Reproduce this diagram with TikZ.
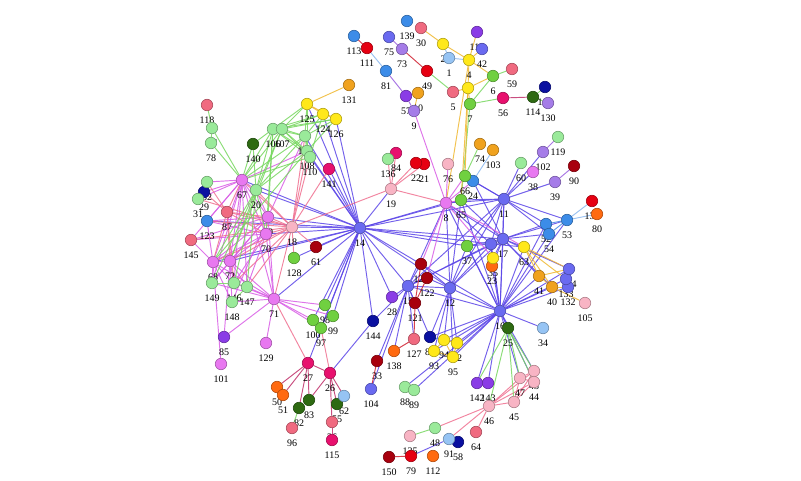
\documentclass[tikz,border=0pt]{standalone}
\usepackage{fontspec}
\setmainfont{Liberation Serif}
\pgfdeclarelayer{edgelayer}
\pgfdeclarelayer{labellayer}
\pgfsetlayers{edgelayer,labellayer,main}
\definecolor{bv}{HTML}{6A6AF0}
\definecolor{viol}{HTML}{E878F0}
\definecolor{purp}{HTML}{8A3CE6}
\definecolor{lav}{HTML}{A57CE8}
\definecolor{lgr}{HTML}{9AEA9A}
\definecolor{grn}{HTML}{70D040}
\definecolor{dgr}{HTML}{2E6A12}
\definecolor{yel}{HTML}{FFE81A}
\definecolor{org}{HTML}{F0A21E}
\definecolor{ored}{HTML}{FF6A10}
\definecolor{red}{HTML}{E60012}
\definecolor{dred}{HTML}{A8000E}
\definecolor{dpink}{HTML}{E8106E}
\definecolor{spink}{HTML}{F06A80}
\definecolor{lpink}{HTML}{F8B4C4}
\definecolor{lblu}{HTML}{96C4F4}
\definecolor{blu}{HTML}{3C8CE8}
\definecolor{navy}{HTML}{0A10A0}
\definecolor{cbv}{HTML}{5B45E8}
\definecolor{cmag}{HTML}{D95CE6}
\definecolor{cpink}{HTML}{F07090}
\definecolor{cgrn}{HTML}{78D860}
\definecolor{corg}{HTML}{F0B830}
\definecolor{cdp}{HTML}{C0306A}
\definecolor{cred}{HTML}{D02030}
\definecolor{clav}{HTML}{9A60E0}
\definecolor{clb}{HTML}{8AB8F0}
\definecolor{cblu}{HTML}{4A8AE6}
\tikzset{
  vtx/.style={circle,inner sep=0pt,minimum size=11.5pt,line width=0.6pt},
  lbl/.style={font=\fontsize{10}{12}\selectfont,inner sep=0pt},
  elink/.style={line width=0.95pt,opacity=0.85}
}
\newcommand\mkv[4]{\node[vtx,fill=#4,draw=#4!70!black] (n#1) at (#2,#3) {};
  \begin{pgfonlayer}{labellayer}\node[lbl] at (#2,#3+15) {#1};\end{pgfonlayer}}
\newcommand\mkedges[2]{\begin{pgfonlayer}{edgelayer}\foreach \a/\b in {#2} {\draw[elink,#1] (n\a) -- (n\b);}\end{pgfonlayer}}
\begin{document}
\begin{tikzpicture}[x=1pt,y=-1pt]
\begin{pgfonlayer}{edgelayer}
\fill[white] (0,0) rectangle (801,481);
\end{pgfonlayer}
\useasboundingbox (0,0) rectangle (801,481);
\mkv{1}{449}{58}{lblu}
\mkv{2}{443}{44}{yel}
\mkv{3}{468}{88}{yel}
\mkv{4}{469}{60}{yel}
\mkv{5}{453}{92}{spink}
\mkv{6}{493}{76}{grn}
\mkv{7}{470}{104}{grn}
\mkv{8}{446}{203}{viol}
\mkv{9}{414}{111}{lav}
\mkv{10}{418}{93}{org}
\mkv{11}{504}{199}{bv}
\mkv{12}{450}{288}{bv}
\mkv{13}{491}{244}{bv}
\mkv{14}{360}{228}{bv}
\mkv{15}{408}{286}{bv}
\mkv{16}{500}{311}{bv}
\mkv{17}{503}{239}{bv}
\mkv{18}{292}{227}{lpink}
\mkv{19}{391}{189}{lpink}
\mkv{20}{256}{190}{lgr}
\mkv{21}{424}{164}{red}
\mkv{22}{416}{163}{red}
\mkv{23}{492}{266}{ored}
\mkv{24}{473}{181}{blu}
\mkv{25}{508}{328}{dgr}
\mkv{26}{330}{373}{dpink}
\mkv{27}{308}{363}{dpink}
\mkv{28}{392}{297}{purp}
\mkv{29}{204}{192}{navy}
\mkv{30}{421}{28}{spink}
\mkv{31}{198}{199}{lgr}
\mkv{32}{207}{182}{lgr}
\mkv{33}{377}{361}{dred}
\mkv{34}{543}{328}{lblu}
\mkv{35}{493}{258}{yel}
\mkv{36}{332}{422}{spink}
\mkv{37}{467}{246}{grn}
\mkv{38}{533}{172}{viol}
\mkv{39}{555}{182}{lav}
\mkv{40}{552}{287}{org}
\mkv{41}{539}{276}{org}
\mkv{42}{482}{49}{bv}
\mkv{43}{534}{371}{lpink}
\mkv{44}{534}{382}{lpink}
\mkv{45}{514}{402}{lpink}
\mkv{46}{489}{406}{lpink}
\mkv{47}{520}{378}{lpink}
\mkv{48}{435}{428}{lgr}
\mkv{49}{427}{71}{red}
\mkv{50}{277}{387}{ored}
\mkv{51}{283}{395}{ored}
\mkv{52}{546}{224}{blu}
\mkv{53}{567}{220}{blu}
\mkv{54}{549}{234}{blu}
\mkv{55}{337}{404}{dgr}
\mkv{56}{503}{98}{dpink}
\mkv{57}{406}{96}{purp}
\mkv{58}{458}{442}{navy}
\mkv{59}{512}{69}{spink}
\mkv{60}{521}{163}{lgr}
\mkv{61}{316}{247}{dred}
\mkv{62}{344}{396}{lblu}
\mkv{63}{524}{247}{yel}
\mkv{64}{476}{432}{spink}
\mkv{65}{461}{200}{grn}
\mkv{66}{465}{176}{grn}
\mkv{67}{242}{180}{viol}
\mkv{68}{213}{262}{viol}
\mkv{69}{268}{217}{viol}
\mkv{70}{266}{234}{viol}
\mkv{71}{274}{299}{viol}
\mkv{72}{230}{261}{viol}
\mkv{73}{402}{49}{lav}
\mkv{74}{480}{144}{org}
\mkv{75}{389}{37}{bv}
\mkv{76}{448}{164}{lpink}
\mkv{77}{212}{128}{lgr}
\mkv{78}{211}{143}{lgr}
\mkv{79}{411}{456}{red}
\mkv{80}{597}{214}{ored}
\mkv{81}{386}{71}{blu}
\mkv{82}{299}{408}{dgr}
\mkv{83}{309}{400}{dgr}
\mkv{84}{396}{153}{dpink}
\mkv{85}{224}{337}{purp}
\mkv{86}{430}{337}{navy}
\mkv{87}{227}{212}{spink}
\mkv{88}{405}{387}{lgr}
\mkv{89}{414}{390}{lgr}
\mkv{90}{574}{166}{dred}
\mkv{91}{449}{439}{lblu}
\mkv{92}{457}{343}{yel}
\mkv{93}{434}{351}{yel}
\mkv{94}{444}{340}{yel}
\mkv{95}{453}{357}{yel}
\mkv{96}{292}{428}{spink}
\mkv{97}{321}{328}{grn}
\mkv{98}{325}{305}{grn}
\mkv{99}{333}{316}{grn}
\mkv{100}{313}{320}{grn}
\mkv{101}{221}{364}{viol}
\mkv{102}{543}{152}{lav}
\mkv{103}{493}{150}{org}
\mkv{104}{371}{389}{bv}
\mkv{105}{585}{303}{lpink}
\mkv{106}{273}{129}{lgr}
\mkv{107}{282}{129}{lgr}
\mkv{108}{307}{151}{lgr}
\mkv{109}{305}{136}{lgr}
\mkv{110}{310}{157}{lgr}
\mkv{111}{367}{48}{red}
\mkv{112}{433}{456}{ored}
\mkv{113}{354}{36}{blu}
\mkv{114}{533}{97}{dgr}
\mkv{115}{332}{440}{dpink}
\mkv{116}{477}{32}{purp}
\mkv{117}{545}{87}{navy}
\mkv{118}{207}{105}{spink}
\mkv{119}{558}{137}{lgr}
\mkv{120}{421}{264}{dred}
\mkv{121}{415}{303}{dred}
\mkv{122}{427}{278}{dred}
\mkv{123}{207}{221}{blu}
\mkv{124}{323}{114}{yel}
\mkv{125}{307}{104}{yel}
\mkv{126}{336}{119}{yel}
\mkv{127}{414}{339}{spink}
\mkv{128}{294}{258}{grn}
\mkv{129}{266}{343}{viol}
\mkv{130}{548}{103}{lav}
\mkv{131}{349}{85}{org}
\mkv{132}{568}{287}{bv}
\mkv{133}{566}{279}{bv}
\mkv{134}{569}{269}{bv}
\mkv{135}{410}{436}{lpink}
\mkv{136}{388}{159}{lgr}
\mkv{137}{592}{201}{red}
\mkv{138}{394}{351}{ored}
\mkv{139}{407}{21}{blu}
\mkv{140}{253}{144}{dgr}
\mkv{141}{329}{169}{dpink}
\mkv{142}{477}{383}{purp}
\mkv{143}{488}{383}{purp}
\mkv{144}{373}{321}{navy}
\mkv{145}{191}{240}{spink}
\mkv{146}{234}{283}{lgr}
\mkv{147}{247}{287}{lgr}
\mkv{148}{232}{302}{lgr}
\mkv{149}{212}{283}{lgr}
\mkv{150}{389}{457}{dred}
% blue-violet hub edges
\mkedges{cbv}{14/125,14/124,14/126,14/109,14/108,14/110,14/141,14/67,14/20,14/69,14/70,14/68,14/72,14/18,14/61,14/128,14/71,14/98,14/99,14/97,14/100,14/19,14/8,14/11,14/17,14/13,14/12,14/15,14/16,14/65,14/37,14/28,14/144,14/123}
\mkedges{cbv}{11/60,11/102,11/38,11/24,11/8,11/17,11/13,11/16,11/12,11/15,11/65,11/66,11/53,11/52,11/54,11/37,11/39}
\mkedges{cbv}{17/13,17/16,17/12,17/15,17/8,17/37,17/63,17/35,17/23,17/41,17/40,17/134,17/53,17/54,17/52,17/65,17/24}
\mkedges{cbv}{13/16,13/12,13/15,13/8,13/37,13/35,13/23,13/63}
\mkedges{cbv}{12/16,12/15,12/93,12/94,12/92,12/95,12/86,12/120,12/122,12/8,12/37,12/65}
\mkedges{cbv}{15/16,15/28,15/121,15/127,15/120,15/122,15/138,15/33,15/104,15/144,15/86,15/8}
\mkedges{cbv}{16/63,16/41,16/40,16/134,16/133,16/132,16/34,16/25,16/142,16/143,16/47,16/43,16/44,16/88,16/89,16/93,16/94,16/92,16/95,16/86,16/8,16/37,16/35,16/23,16/65,16/53,16/54,16/52}
\mkedges{cbv}{26/144,27/14,91/58,91/79}
% magenta edges
\mkedges{cmag}{8/9,8/76,8/65,8/66,8/24,8/120,8/122,8/63,8/35}
\mkedges{cmag}{67/69,67/70,67/68,67/72,67/71,67/20,67/145,67/123,67/31,67/32,67/29,67/149,67/146,67/147,67/108}
\mkedges{cmag}{69/70,69/68,69/72,69/71,69/145,69/123,69/20,69/149,69/148,69/109}
\mkedges{cmag}{70/68,70/72,70/71,70/145,70/123,70/146,70/147,68/72,68/71,68/149,68/148,68/146,68/145,68/123,68/101}
\mkedges{cmag}{72/71,72/149,72/146,72/147,72/148,72/85,71/85,71/129,71/98,71/99,71/97,71/100,71/146,71/147,71/148,71/149}
% pink edges
\mkedges{cpink}{18/67,18/20,18/69,18/70,18/68,18/72,18/87,18/123,18/145,18/31,18/146,18/147,18/71,18/128,18/141,18/19,18/109,18/108,18/110,18/61}
\mkedges{cpink}{87/29,87/32,87/67,87/69,87/70,87/72,87/68,87/146,19/84,19/136,19/22,19/21,19/8,27/71,26/97}
\mkedges{cpink}{46/47,46/45,46/43,46/44,46/48,46/64,46/91,45/47,45/44,45/43,47/43,47/44}
% dark pink / red
\mkedges{cdp}{27/26,27/50,27/51,27/83,27/82,26/83,26/62,26/55,26/36,36/115,56/114}
\mkedges{cred}{121/120,121/122,121/127,127/138,33/104,79/150,73/49,111/113}
% green
\mkedges{cgrn}{106/107,106/109,106/108,106/110,106/125,106/124,106/126,106/140,106/67,106/20,106/69,106/70}
\mkedges{cgrn}{107/109,107/108,107/110,107/125,107/124,107/126,107/67,107/20,107/72}
\mkedges{cgrn}{109/108,109/110,109/125,109/124,109/126,109/67,109/20,108/110,108/125,108/126,108/20,108/68,110/124,110/67}
\mkedges{cgrn}{140/67,140/20,77/78,118/77,77/67,78/67,20/146,20/147,20/149,20/70,20/72,20/68,146/149,146/147,147/148}
\mkedges{cgrn}{7/6,7/56,7/65,6/59,49/5,74/66,82/96,48/135,114/117,114/130,25/46,25/47,25/45,25/43,25/44,25/142}
% orange
\mkedges{corg}{2/30,2/4,4/42,4/116,4/6,4/3,3/5,3/6,3/7,3/66,4/8,3/65,131/125,125/124,124/126,125/126,10/9}
\mkedges{corg}{63/41,63/40,63/134,63/133,41/40,41/134,40/132,40/105,94/92,94/93,94/95,92/95,93/95}
% others
\mkedges{clav}{75/73,81/57,57/9,102/119,39/90}
\mkedges{clb}{111/81,1/2,1/4,53/137,53/80,103/24,24/66}
\mkedges{cblu}{53/52,53/54,52/54,86/94}
\end{tikzpicture}
\end{document}
